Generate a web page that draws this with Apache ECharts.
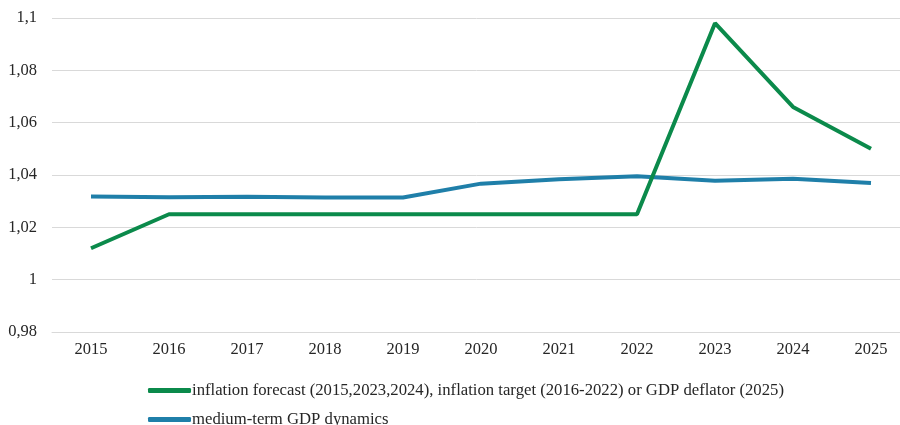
<!DOCTYPE html>
<html><head><meta charset="utf-8">
<script src="https://cdn.jsdelivr.net/npm/echarts@6/dist/echarts.min.js"></script>
<style>html,body{margin:0;padding:0;background:#fff}#c{width:900px;height:425px}</style>
</head><body><div id="c"></div>
<script>
const years = ['2015','2016','2017','2018','2019','2020','2021','2022','2023','2024','2025'];
const inflation = [1.012,1.025,1.025,1.025,1.025,1.025,1.025,1.025,1.098,1.066,1.050];
const gdpDynamics = [1.0318,1.0315,1.0317,1.0314,1.0314,1.0367,1.0384,1.0395,1.0378,1.0386,1.0369];
const seriesNames = ['inflation forecast (2015,2023,2024), inflation target (2016-2022) or GDP deflator (2025)','medium-term GDP dynamics'];
const yTicks = {min:0.98,max:1.1,interval:0.02};
const font = 'Liberation Serif, Times New Roman, serif';
const chart = echarts.init(document.getElementById('c'));
chart.setOption({
  animation:false,
  grid:{left:52,width:858,top:18,bottom:93,containLabel:false,outerBoundsMode:'none'},
  xAxis:{type:'category',data:years,boundaryGap:true,
    axisLine:{show:true,lineStyle:{color:'#d9d9d9',width:1}},axisTick:{show:false},
    axisLabel:{color:'#262626',fontFamily:font,fontSize:16.5,margin:9}},
  yAxis:{type:'value',min:yTicks.min,max:yTicks.max,interval:yTicks.interval,
    axisLine:{show:false},axisTick:{show:false},
    splitLine:{lineStyle:{color:'#d9d9d9',width:1}},
    axisLabel:{color:'#262626',fontFamily:font,fontSize:16.5,margin:15,
      formatter:v=>String(+v.toFixed(2)).replace('.',',')}},
  legend:{orient:'vertical',left:143,top:377,height:60,itemGap:12,itemWidth:43,itemHeight:5,icon:'roundRect',
    textStyle:{color:'#262626',fontFamily:font,fontSize:16.7,padding:[0,0,0,-4]},
    data:seriesNames},
  series:[
    {name:seriesNames[0],type:'line',data:inflation,symbol:'none',lineStyle:{width:4,color:'#0B8A4B'},itemStyle:{color:'#0B8A4B'},z:3},
    {name:seriesNames[1],type:'line',data:gdpDynamics,symbol:'none',lineStyle:{width:4,color:'#1F7FA9'},itemStyle:{color:'#1F7FA9'},z:2}
  ]
});
</script></body></html>
